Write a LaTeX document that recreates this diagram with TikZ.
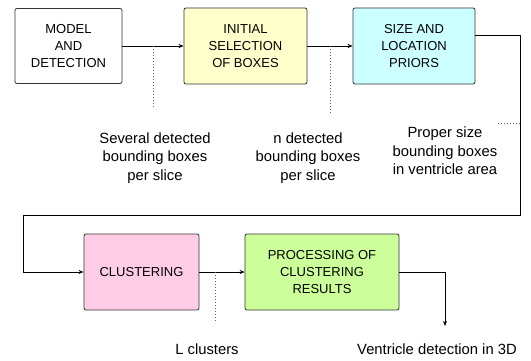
\documentclass[tikz,border=0pt]{standalone}
\usepackage{fontspec}
\setmainfont{Liberation Sans}
\usetikzlibrary{arrows.meta}
\definecolor{boxyellow}{HTML}{FFFFCC}
\definecolor{boxcyan}{HTML}{CCFFFF}
\definecolor{boxpink}{HTML}{FFCCE6}
\definecolor{boxgreen}{HTML}{CCFF99}
\definecolor{edge}{HTML}{333333}
\tikzset{
  stage/.style={draw=edge, line width=0.8pt, rounded corners=2pt, align=center,
    inner sep=0pt, font=\fontsize{13pt}{17pt}\selectfont},
  flow/.style={line width=0.8pt, -{Stealth[length=5pt,width=4pt]}},
  link/.style={line width=0.8pt},
  guide/.style={gray!80!black, line width=0.8pt, dash pattern=on 0.8pt off 2.2pt},
  note/.style={align=center, inner sep=0pt, font=\fontsize{14.8pt}{18.5pt}\selectfont}
}
\begin{document}
\begin{tikzpicture}[x=1pt, y=-1pt]
\useasboundingbox (0,0) rectangle (531,361);

% processing stages
\node[stage, fill=white, minimum width=107pt, minimum height=75pt] (md) at (68.5,46) {MODEL\\AND\\DETECTION};
\node[stage, fill=boxyellow, minimum width=123pt, minimum height=76pt] (is) at (245.5,46) {INITIAL\\SELECTION\\OF BOXES};
\node[stage, fill=boxcyan, minimum width=122pt, minimum height=76pt] (sl) at (414,46) {SIZE AND\\LOCATION\\PRIORS};
\node[stage, fill=boxpink, minimum width=115pt, minimum height=76pt] (cl) at (141.5,272) {CLUSTERING};
\node[stage, fill=boxgreen, minimum width=154pt, minimum height=76pt] (pr) at (322,272) {PROCESSING OF\\CLUSTERING\\RESULTS};

% route of the wrap-around connector
\coordinate (r1) at (520,35);
\coordinate (r2) at (520,215);
\coordinate (l1) at (23,215);
\coordinate (out) at (445,326);

% connectors
\draw[flow] (md) -- (is);
\draw[flow] (is) -- (sl);
\draw[flow] (sl.east |- r1) -- (r1) -- (r2) -- (l1) -- (l1 |- cl) -- (cl);
\draw[flow] (cl) -- (pr);
\draw[flow] (pr.east) -| (out);

% dotted leaders to the intermediate results
\coordinate (d1) at (153,108);
\coordinate (d2) at (330,113);
\coordinate (d3) at (498,123);
\coordinate (d4) at (215,323);
\draw[guide] (d1 |- md.east) -- (d1);
\draw[guide] (d2 |- is.east) -- (d2);
\draw[guide] (d3) -- (d3 -| r1);
\draw[guide] (d4 |- cl.east) -- (d4);

% intermediate results
\node[note] (n1) at (155,158) {Several detected\\bounding boxes\\per slice};
\node[note] (n2) at (308,158) {n detected\\bounding boxes\\per slice};
\node[note] (n3) at (445,151) {Proper size\\bounding boxes\\in ventricle area};
\node[note] (n4) at (207,349) {L clusters};
\node[note] (n5) at (437,349) {Ventricle detection in 3D};
\end{tikzpicture}
\end{document}
